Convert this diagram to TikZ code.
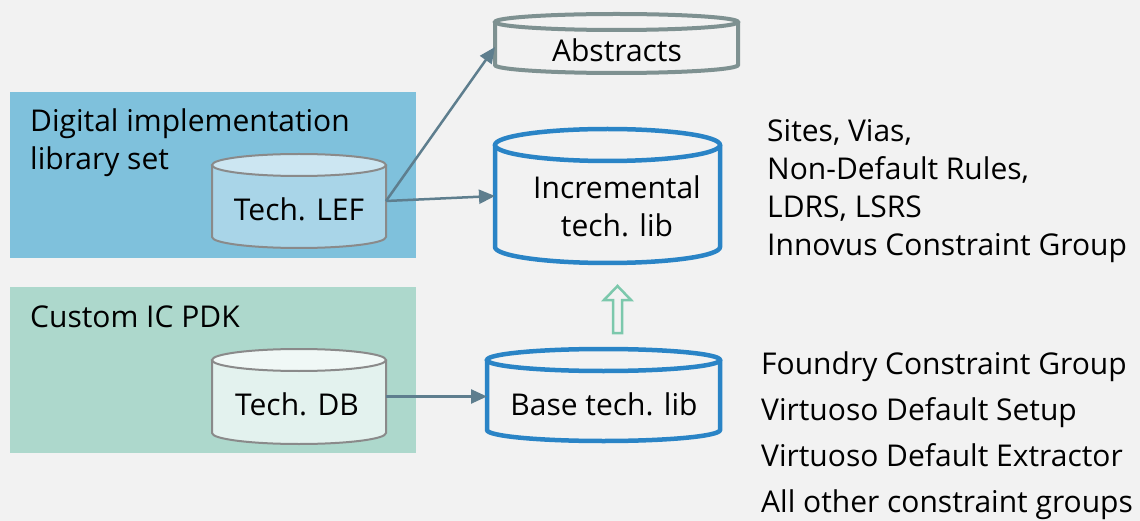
\documentclass[tikz,border=0pt]{standalone}
\usepackage{fontspec}
\setmainfont{Open Sans}
\usetikzlibrary{arrows.meta}

\definecolor{pagebg}{HTML}{F2F2F2}
\definecolor{digibox}{HTML}{7FC1DC}
\definecolor{pdkbox}{HTML}{ADD8CC}
\definecolor{lefbody}{HTML}{A9D5E8}
\definecolor{leftop}{HTML}{CCE6F2}
\definecolor{dbbody}{HTML}{E3F2EE}
\definecolor{dbtop}{HTML}{F0F8F6}
\definecolor{grayedge}{HTML}{8A8A8A}
\definecolor{libblue}{HTML}{2A84C6}
\definecolor{absedge}{HTML}{7E9191}
\definecolor{flow}{HTML}{5E7E8E}
\definecolor{upgreen}{HTML}{7CC8AC}

% Cylinder: #1 style prefix, #2 name, #3 left, #4 right, #5 top, #6 bottom, #7 ellipse ry
\newcommand{\drum}[7]{%
  \pgfmathsetmacro{\drumrx}{(#4-#3)/2}%
  \pgfmathsetmacro{\drumcx}{(#4+#3)/2}%
  \path[#1 body] (#3,{#5+#7}) -- (#3,{#6-#7})
     arc[start angle=180,end angle=360,x radius=\drumrx pt,y radius=#7pt]
     -- (#4,{#5+#7})
     arc[start angle=0,end angle=180,x radius=\drumrx pt,y radius=#7pt] -- cycle;
  \path[#1 edge] (#3,{#5+#7}) -- (#3,{#6-#7})
     arc[start angle=180,end angle=360,x radius=\drumrx pt,y radius=#7pt]
     -- (#4,{#5+#7});
  \path[#1 top, #1 edge] (\drumcx,{#5+#7}) ellipse[x radius=\drumrx pt,y radius=#7pt];
  \node[anchorbox, minimum width={(#4-#3)*1pt}, minimum height={(#6-#5)*1pt}]
     (#2) at (\drumcx,{(#5+#6)/2}) {};
}

\tikzset{
  x=1pt, y=-1pt,
  txt/.style={font=\fontsize{30}{38}\selectfont, inner sep=0pt, text=black},
  anchorbox/.style={inner sep=0pt, outer sep=0pt},
  lef body/.style={fill=lefbody},
  lef top/.style={fill=leftop},
  lef edge/.style={draw=grayedge, line width=2pt},
  db body/.style={fill=dbbody},
  db top/.style={fill=dbtop},
  db edge/.style={draw=grayedge, line width=2pt},
  lib body/.style={fill=pagebg},
  lib top/.style={fill=pagebg},
  lib edge/.style={draw=libblue, line width=4.5pt},
  abs body/.style={fill=pagebg},
  abs top/.style={fill=pagebg},
  abs edge/.style={draw=absedge, line width=4pt},
  flowarrow/.style={draw=flow, line width=2.5pt, -{Triangle[length=16pt,width=14pt]}},
}

\begin{document}
\begin{tikzpicture}
\useasboundingbox[fill=pagebg] (0,0) rectangle (1140,521);

% group panels
\fill[digibox] (10,92) rectangle (416,258);
\fill[pdkbox] (10,287) rectangle (416,453);
% multi-line nodes: base anchor sits on the last line
\node[txt, anchor=base west, align=left] (digilabel) at (30,170)
  {Digital implementation\\library set};
\node[txt, anchor=base west] (pdklabel) at (30,327) {Custom IC PDK};

% databases
\drum{lef}{lef}{212}{386}{154}{248}{11}
\drum{db}{db}{212}{386}{349}{444}{11}
\drum{abs}{abs}{495}{738}{14}{73}{8}
\drum{lib}{inc}{495}{720}{129}{263}{16}
\drum{lib}{base}{487}{720}{349}{441}{11}

\node[txt, anchor=base] (leftext) at (299,221) {Tech. LEF};
\node[txt, anchor=base] (dbtext) at (297,415) {Tech. DB};
\node[txt, anchor=base] (abstext) at (617,62) {Abstracts};
\node[txt, anchor=base, align=center] (inctext) at (617,237) {Incremental\\tech. lib};
\node[txt, anchor=base] (basetext) at (604,415) {Base tech. lib};

% flows
\coordinate (absin) at (495,47);
\draw[flowarrow] (lef.east) -- (absin);
\draw[flowarrow] (lef.east) -- (inc.west);
\draw[flowarrow] (db.east) -- (base.west |- db.east);

% base lib feeds incremental lib
\draw[upgreen, line width=2.5pt, line join=miter]
  (613,333) -- (613,300) -- (604,300) -- (617.5,286) -- (631,300) -- (622,300) -- (622,333) -- cycle;

% contents
\node[txt, anchor=base west, align=left] (inclist) at (767,256)
  {Sites, Vias,\\Non-Default Rules,\\LDRS, LSRS\\Innovus Constraint Group};
\node[txt, anchor=base west, align=left, font=\fontsize{30}{45.7}\selectfont] (baselist) at (761,512)
  {Foundry Constraint Group\\Virtuoso Default Setup\\Virtuoso Default Extractor\\All other constraint groups};
\end{tikzpicture}
\end{document}
